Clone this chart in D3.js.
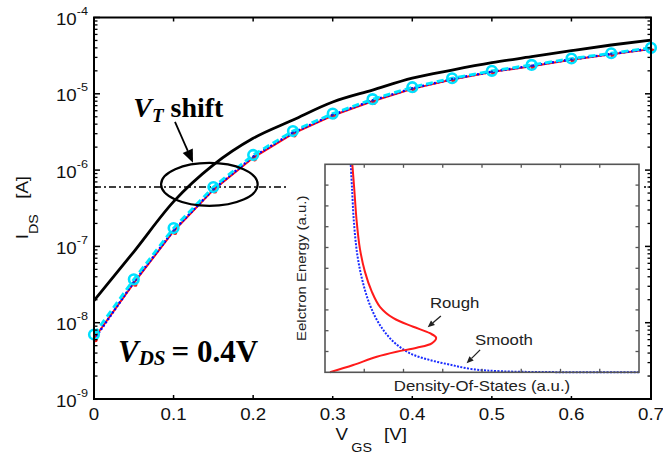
<!DOCTYPE html>
<html>
<head>
<meta charset="utf-8">
<script src="https://cdn.jsdelivr.net/npm/d3@7"></script>
<style>
  body { margin: 0; background: #fff; }
  svg { display: block; }
</style>
</head>
<body>
<svg id="chart" width="663" height="456"></svg>
<script>
// ---- Transfer characteristics, I_DS vs V_GS at V_DS = 0.4 V ----
const vgs = [0, 0.05, 0.1, 0.15, 0.2, 0.25, 0.3, 0.35, 0.4, 0.45, 0.5, 0.55, 0.6, 0.65, 0.7];

// smooth-interface device (solid black)
const idsSmooth = [1.95e-8, 8.5e-8, 3.86e-7, 1.17e-6, 2.61e-6, 4.54e-6, 7.8e-6, 1.12e-5,
                   1.6e-5, 2.05e-5, 2.56e-5, 3.06e-5, 3.67e-5, 4.36e-5, 5.07e-5];
// rough-interface devices
const idsRoughCyan = [7.0e-9, 3.7e-8, 1.74e-7, 6.0e-7, 1.58e-6, 3.25e-6, 5.5e-6, 8.5e-6,
                      1.22e-5, 1.6e-5, 2.0e-5, 2.39e-5, 2.9e-5, 3.4e-5, 4.0e-5];
const idsRoughBlue = [6.0e-9, 3.4e-8, 1.62e-7, 5.6e-7, 1.5e-6, 3.1e-6, 5.3e-6, 8.2e-6,
                      1.18e-5, 1.56e-5, 1.95e-5, 2.33e-5, 2.83e-5, 3.32e-5, 3.9e-5];
const idsRoughRed  = [6.2e-9, 3.3e-8, 1.58e-7, 5.5e-7, 1.45e-6, 3.0e-6, 5.2e-6, 8.0e-6,
                      1.16e-5, 1.54e-5, 1.93e-5, 2.3e-5, 2.8e-5, 3.3e-5, 3.85e-5];

const vtCurrent = 6e-7;

// axis ticks
const xTicks = [0, 0.1, 0.2, 0.3, 0.4, 0.5, 0.6, 0.7];
const xTickLabels = ["0", "0.1", "0.2", "0.3", "0.4", "0.5", "0.6", "0.7"];
const yDecades = [-9, -8, -7, -6, -5, -4];
const yTickLabels = ["-9", "-8", "-7", "-6", "-5", "-4"];

// ---- Inset: density of states vs electron energy (arbitrary units) ----
const roughDos    = [0.016, 0.090, 0.165, 0.228, 0.292, 0.340, 0.354, 0.334, 0.281, 0.218, 0.175, 0.149, 0.127, 0.111, 0.101, 0.093, 0.087];
const roughEnergy = [0.0,   0.035, 0.075, 0.099, 0.118, 0.139, 0.166, 0.188, 0.219, 0.260, 0.315, 0.388, 0.484, 0.596, 0.724, 0.885, 1.0];
const smoothDos    = [1.0, 0.72, 0.56, 0.47, 0.40, 0.334, 0.271, 0.218, 0.175, 0.143, 0.120, 0.103, 0.092, 0.086, 0.082];
const smoothEnergy = [0.0, 0.001, 0.005, 0.015, 0.036, 0.059, 0.091, 0.147, 0.227, 0.324, 0.436, 0.564, 0.724, 0.885, 1.0];

// ------------------------------------------------------------------
const svg = d3.select("#chart");
const W = 663, H = 456;
const plot = { left: 94, right: 651, top: 17.5, bottom: 399 };
const SANS = "'Liberation Sans', Arial, Helvetica, sans-serif";
const SERIF = "'Liberation Serif', 'Times New Roman', serif";

svg.append("rect").attr("width", W).attr("height", H).attr("fill", "#fff");

const x = d3.scaleLinear().domain([0, 0.7]).range([plot.left, plot.right]);
const y = d3.scaleLog().domain([1e-9, 1e-4]).range([plot.bottom, plot.top]);

// sans-serif text, slightly widened like the original export
function sansText(g, px, py, str, size, anchor, sx) {
  return g.append("text")
    .attr("transform", `translate(${px},${py}) scale(${sx},1)`)
    .attr("font-family", SANS)
    .attr("font-size", size)
    .attr("text-anchor", anchor)
    .attr("fill", "#111")
    .text(str);
}

// ---- threshold reference line (dash-dot) ----
svg.append("line")
  .attr("x1", x(0)).attr("x2", x(0.7))
  .attr("y1", y(vtCurrent)).attr("y2", y(vtCurrent))
  .attr("stroke", "#000").attr("stroke-width", 1.6)
  .attr("stroke-dasharray", "7,3,2,3");

// ---- curves ----
const line = d3.line().x((d, i) => x(vgs[i])).y(d => y(d));
const smoothLine = d3.line().x((d, i) => x(vgs[i])).y(d => y(d)).curve(d3.curveMonotoneX);

svg.append("path").datum(idsSmooth)
  .attr("d", smoothLine).attr("fill", "none")
  .attr("stroke", "#000").attr("stroke-width", 2.8);

svg.append("path").datum(idsRoughRed)
  .attr("d", line).attr("fill", "none")
  .attr("stroke", "#ff1010").attr("stroke-width", 2);
svg.append("g").selectAll("circle").data(idsRoughRed).join("circle")
  .attr("cx", (d, i) => x(vgs[i]) + 1.5).attr("cy", d => y(d) + 1.5)
  .attr("r", 2.2).attr("fill", "#ff1010");

svg.append("path").datum(idsRoughBlue)
  .attr("d", line).attr("fill", "none")
  .attr("stroke", "#0000ff").attr("stroke-width", 2.4)
  .attr("stroke-dasharray", "2,2");

svg.append("path").datum(idsRoughCyan)
  .attr("d", line).attr("fill", "none")
  .attr("stroke", "#00e8ff").attr("stroke-width", 2.8)
  .attr("stroke-dasharray", "7,4");
svg.append("g").selectAll("circle").data(idsRoughCyan).join("circle")
  .attr("cx", (d, i) => x(vgs[i])).attr("cy", d => y(d))
  .attr("r", 4.8).attr("fill", "none")
  .attr("stroke", "#00e0ff").attr("stroke-width", 2.6);
svg.append("g").selectAll("circle").data(idsRoughBlue).join("circle")
  .attr("cx", (d, i) => x(vgs[i])).attr("cy", d => y(d))
  .attr("r", 1.2).attr("fill", "#1030c0");

// ---- main axes box and ticks ----
const axes = svg.append("g");
axes.append("rect")
  .attr("x", plot.left).attr("y", plot.top)
  .attr("width", plot.right - plot.left).attr("height", plot.bottom - plot.top)
  .attr("fill", "none").attr("stroke", "#000").attr("stroke-width", 2);

xTicks.forEach((t, i) => {
  axes.append("line").attr("x1", x(t)).attr("x2", x(t))
    .attr("y1", plot.bottom).attr("y2", plot.bottom - 4)
    .attr("stroke", "#000").attr("stroke-width", 1.5);
  axes.append("line").attr("x1", x(t)).attr("x2", x(t))
    .attr("y1", plot.top).attr("y2", plot.top + 4)
    .attr("stroke", "#000").attr("stroke-width", 1.5);
  sansText(axes, x(t), plot.bottom + 21, xTickLabels[i], 17, "middle", 1.1);
});

yDecades.forEach((e, i) => {
  const v = Math.pow(10, e);
  [plot.left, plot.right].forEach((ax, side) => {
    const dir = side === 0 ? 1 : -1;
    axes.append("line").attr("x1", ax).attr("x2", ax + dir * 6)
      .attr("y1", y(v)).attr("y2", y(v))
      .attr("stroke", "#000").attr("stroke-width", 1.5);
    if (e < -4) {
      for (let m = 2; m <= 9; m++) {
        axes.append("line").attr("x1", ax).attr("x2", ax + dir * 3.5)
          .attr("y1", y(m * v)).attr("y2", y(m * v))
          .attr("stroke", "#000").attr("stroke-width", 1.3);
      }
    }
  });
  const lbl = axes.append("text")
    .attr("transform", `translate(${plot.left - 6},${y(v) + 7.5}) scale(1.1,1)`)
    .attr("font-family", SANS).attr("text-anchor", "end").attr("fill", "#111");
  lbl.append("tspan").attr("font-size", 17).text("10");
  lbl.append("tspan").attr("font-size", 11.5).attr("dy", -10).text(yTickLabels[i]);
});

// axis titles
const cx = (plot.left + plot.right) / 2;
const xTitle = svg.append("text")
  .attr("transform", `translate(${cx - 37},440) scale(1.1,1)`)
  .attr("font-family", SANS).attr("fill", "#111");
xTitle.append("tspan").attr("font-size", 17).text("V");
xTitle.append("tspan").attr("font-size", 13).attr("dx", 3).attr("dy", 12).text("GS");
xTitle.append("tspan").attr("font-size", 17).attr("dx", 11).attr("dy", -12).text("[V]");

const cy = (plot.top + plot.bottom) / 2;
const yTitle = svg.append("text")
  .attr("transform", `translate(28,${cy + 31}) rotate(-90) scale(1.1,1)`)
  .attr("font-family", SANS).attr("fill", "#111");
yTitle.append("tspan").attr("font-size", 17).text("I");
yTitle.append("tspan").attr("font-size", 13).attr("dy", 10).text("DS");
yTitle.append("tspan").attr("font-size", 17).attr("dx", 14).attr("dy", -10).text("[A]");

// ---- annotations ----
const ann = svg.append("g");
// ellipse around the threshold crossing
ann.append("ellipse")
  .attr("cx", x(0.145)).attr("cy", y(6.5e-7))
  .attr("rx", x(0.145) - x(0.0843)).attr("ry", 21.5)
  .attr("fill", "none").attr("stroke", "#000").attr("stroke-width", 2.2);

// arrow from the label to the ellipse
const arrowFrom = [x(0.1018), y(4.3e-6)];
const arrowTo = [x(0.1244), y(1.25e-6)];
{
  const dx = arrowTo[0] - arrowFrom[0], dy = arrowTo[1] - arrowFrom[1];
  const len = Math.hypot(dx, dy), ux = dx / len, uy = dy / len;
  const hl = 13, hw = 5.5;
  const bx = arrowTo[0] - ux * hl, by = arrowTo[1] - uy * hl;
  ann.append("line")
    .attr("x1", arrowFrom[0]).attr("y1", arrowFrom[1]).attr("x2", bx).attr("y2", by)
    .attr("stroke", "#000").attr("stroke-width", 1.8);
  ann.append("path")
    .attr("d", `M${arrowTo[0]},${arrowTo[1]} L${bx - uy * hw},${by + ux * hw} L${bx + uy * hw},${by - ux * hw} Z`)
    .attr("fill", "#000");
}

const vt = ann.append("text")
  .attr("x", x(0.0493)).attr("y", y(4.97e-6))
  .attr("font-family", SERIF).attr("font-weight", "bold").attr("fill", "#000");
vt.append("tspan").attr("font-size", 28).attr("font-style", "italic").text("V");
vt.append("tspan").attr("font-size", 19).attr("font-style", "italic").attr("dy", 5).text("T");
vt.append("tspan").attr("font-size", 28).attr("dy", -5).attr("dx", 7).text("shift");

const vds = ann.append("text")
  .attr("x", x(0.0302)).attr("y", y(3.1e-9))
  .attr("font-family", SERIF).attr("font-weight", "bold").attr("fill", "#000");
vds.append("tspan").attr("font-size", 31).attr("font-style", "italic").text("V");
vds.append("tspan").attr("font-size", 21).attr("font-style", "italic").attr("dy", 3).text("DS");
vds.append("tspan").attr("font-size", 31).attr("dy", -3).attr("dx", 6).text("= 0.4V");

// ---- inset panel ----
const inset = { left: 325, right: 639, top: 164.3, bottom: 372.3 };
const ig = svg.append("g");
ig.append("rect")
  .attr("x", 288).attr("y", 158)
  .attr("width", 641 - 288).attr("height", 396 - 158)
  .attr("fill", "#fff");

const xi = d3.scaleLinear().domain([0, 1]).range([inset.left, inset.right]);
const yi = d3.scaleLinear().domain([0, 1]).range([inset.bottom, inset.top]);

const smoothPts = smoothDos.map((d, i) => [d, smoothEnergy[i]]);
const roughPts = roughDos.map((d, i) => [d, roughEnergy[i]]);
const iline = d3.line().x(d => xi(d[0])).y(d => yi(d[1])).curve(d3.curveCatmullRom.alpha(0.5));

ig.append("path").datum(smoothPts).attr("d", iline)
  .attr("fill", "none").attr("stroke", "#1a2cff").attr("stroke-width", 2)
  .attr("stroke-dasharray", "2,1.4");
ig.append("path").datum(roughPts).attr("d", iline)
  .attr("fill", "none").attr("stroke", "#ff1a1a").attr("stroke-width", 2);

ig.append("rect")
  .attr("x", inset.left).attr("y", inset.top)
  .attr("width", inset.right - inset.left).attr("height", inset.bottom - inset.top)
  .attr("fill", "none").attr("stroke", "#555").attr("stroke-width", 1.6);

d3.range(1, 10).forEach(k => {
  const v = k / 10;
  ig.append("line").attr("x1", inset.left).attr("x2", inset.left + 3.5)
    .attr("y1", yi(v)).attr("y2", yi(v)).attr("stroke", "#555").attr("stroke-width", 1.3);
  ig.append("line").attr("x1", inset.right).attr("x2", inset.right - 3.5)
    .attr("y1", yi(v)).attr("y2", yi(v)).attr("stroke", "#555").attr("stroke-width", 1.3);
});
d3.range(1, 8).forEach(k => {
  const v = k / 8;
  ig.append("line").attr("y1", inset.top).attr("y2", inset.top + 3.5)
    .attr("x1", xi(v)).attr("x2", xi(v)).attr("stroke", "#555").attr("stroke-width", 1.3);
  ig.append("line").attr("y1", inset.bottom).attr("y2", inset.bottom - 3.5)
    .attr("x1", xi(v)).attr("x2", xi(v)).attr("stroke", "#555").attr("stroke-width", 1.3);
});

sansText(ig, (inset.left + inset.right) / 2, inset.bottom + 19, "Density-Of-States (a.u.)", 14, "middle", 1.2)
  .attr("fill", "#222");
ig.append("text")
  .attr("transform", `translate(${inset.left - 19},${(inset.top + inset.bottom) / 2}) rotate(-90) scale(1.15,1)`)
  .attr("font-family", SANS).attr("font-size", 13).attr("text-anchor", "middle")
  .attr("fill", "#222").text("Eelctron Energy (a.u.)");

// curve callouts
function callout(lx, ly, label, from, to) {
  sansText(ig, xi(lx), yi(ly), label, 14, "start", 1.2).attr("fill", "#222");
  const p0 = [xi(from[0]), yi(from[1])], p1 = [xi(to[0]), yi(to[1])];
  const dx = p1[0] - p0[0], dy = p1[1] - p0[1];
  const len = Math.hypot(dx, dy), ux = dx / len, uy = dy / len;
  const hl = 7, hw = 3;
  const bx = p1[0] - ux * hl, by = p1[1] - uy * hl;
  ig.append("line").attr("x1", p0[0]).attr("y1", p0[1]).attr("x2", bx).attr("y2", by)
    .attr("stroke", "#222").attr("stroke-width", 1.3);
  ig.append("path")
    .attr("d", `M${p1[0]},${p1[1]} L${bx - uy * hw},${by + ux * hw} L${bx + uy * hw},${by - ux * hw} Z`)
    .attr("fill", "#222");
}
callout(0.334, 0.307, "Rough", [0.369, 0.271], [0.327, 0.216]);
callout(0.478, 0.129, "Smooth", [0.494, 0.108], [0.451, 0.043]);
</script>
</body>
</html>
